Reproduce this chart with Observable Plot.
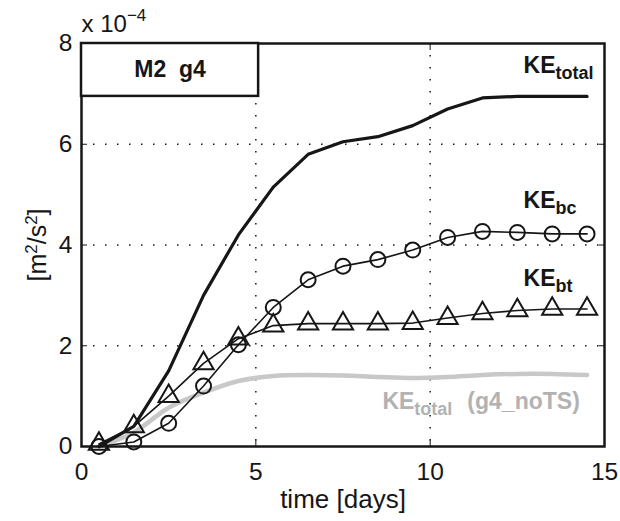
<!DOCTYPE html>
<html><head><meta charset="utf-8">
<script src="https://cdn.jsdelivr.net/npm/d3@7"></script>
<script src="https://cdn.jsdelivr.net/npm/@observablehq/plot@0.6"></script>
<style>
body{margin:0;background:#fff}
#chart svg{display:block}
#chart svg text{white-space:pre}
</style>
</head><body><div id="chart"></div>
<script>
// time [days]
const days = [0.5, 1.5, 2.5, 3.5, 4.5, 5.5, 6.5, 7.5, 8.5, 9.5, 10.5, 11.5, 12.5, 13.5, 14.5];
// values in units of 1e-4 m^2/s^2
const keTotal     = [0, 0.40, 1.50, 3.00, 4.20, 5.15, 5.80, 6.05, 6.15, 6.37, 6.70, 6.92, 6.95, 6.95, 6.95];
const keBc        = [0, 0.09, 0.46, 1.20, 2.02, 2.76, 3.31, 3.58, 3.71, 3.90, 4.15, 4.27, 4.25, 4.22, 4.22];
const keBt        = [0.05, 0.40, 1.00, 1.65, 2.14, 2.40, 2.44, 2.44, 2.44, 2.45, 2.55, 2.64, 2.70, 2.73, 2.73];
const keTotalNoTS = [0, 0.28, 0.77, 1.07, 1.30, 1.40, 1.42, 1.41, 1.38, 1.36, 1.38, 1.42, 1.44, 1.44, 1.42];

const xTicks = [0, 5, 10, 15];
const yTicks = [0, 2, 4, 6, 8];
const xGrid = [5, 10];
const yGrid = [2, 4, 6];

// series labels: main text, subscript, trailing text, anchor position (data units)
const labelMain = ["KE", "KE", "KE", "KE"];
const labelSub  = ["total", "bc", "bt", "total"];
const labelRest = ["", "", "", "(g4_noTS)"];
const labelX    = [12.68, 12.68, 12.68, 8.63];
const labelY    = [7.56, 4.88, 3.33, 0.89];
const labelGray = [false, false, false, true];

// panel annotation box
const panelText = "M2  g4";
const panelBox = [{x1: 0, x2: 5.08, y1: 6.95, y2: 8, text: panelText}];

const BLACK = "#161616";
const GRAY_LINE = "#c8c8c8";
const GRAY_TEXT = "#b2b2b2";

const toRows = (vals) => days.map((d, i) => ({x: d, y: vals[i]}));
const total = toRows(keTotal);
const bc = toRows(keBc);
const bt = toRows(keBt);
const noTS = toRows(keTotalNoTS);

const labels = labelMain.map((m, i) => ({
  main: m, sub: labelSub[i], rest: labelRest[i], x: labelX[i], y: labelY[i], gray: labelGray[i]
}));

const gridStyle = {stroke: BLACK, strokeOpacity: 1, strokeWidth: 1.5, strokeDasharray: "1.5,10.5"};

const chart = Plot.plot({
  width: 620,
  height: 521,
  marginLeft: 81,
  marginRight: 16,
  marginTop: 43,
  marginBottom: 75,
  x: {domain: [0, 15]},
  y: {domain: [0, 8]},
  style: {fontFamily: "'Liberation Sans', Arial, Helvetica, sans-serif", fontSize: "24px", color: BLACK, background: "white", overflow: "visible"},
  marks: [
    Plot.gridX(xGrid, gridStyle),
    Plot.gridY(yGrid, gridStyle),
    Plot.line(noTS, {x: "x", y: "y", stroke: GRAY_LINE, strokeWidth: 4.5, curve: "catmull-rom"}),
    Plot.line(total, {x: "x", y: "y", stroke: BLACK, strokeWidth: 3.2}),
    Plot.line(bc, {x: "x", y: "y", stroke: BLACK, strokeWidth: 1.6}),
    Plot.dot(bc, {x: "x", y: "y", symbol: "circle", r: 7.5, stroke: BLACK, strokeWidth: 2, fill: "none"}),
    Plot.line(bt, {x: "x", y: "y", stroke: BLACK, strokeWidth: 1.6}),
    Plot.dot(bt, {x: "x", y: "y", symbol: "triangle", r: 7.5, stroke: BLACK, strokeWidth: 2, fill: "none"}),
    Plot.frame({stroke: BLACK, strokeWidth: 2.5}),
    Plot.axisX({ticks: xTicks, tickSize: -6, tickPadding: 22, label: null, fontSize: 24.5, stroke: BLACK}),
    Plot.axisX({anchor: "top", ticks: xGrid, tickSize: -6, tickFormat: () => "", label: null}),
    Plot.axisY({ticks: yTicks, tickSize: -6, tickPadding: 15, label: null, fontSize: 24.5}),
    Plot.axisY({anchor: "right", ticks: yGrid, tickSize: -6, tickFormat: () => "", label: null}),
    Plot.rect(panelBox, {x1: "x1", x2: "x2", y1: "y1", y2: "y2", fill: "white", stroke: BLACK, strokeWidth: 2.5}),
    Plot.text(panelBox, {x: d => (d.x1 + d.x2) / 2, y: d => (d.y1 + d.y2) / 2, text: "text", fontWeight: "bold", fontSize: 23, fill: BLACK}),
    Plot.text(labels, {x: "x", y: "y", text: d => d.main + d.sub + (d.rest ? "  " + d.rest : ""), textAnchor: "start", fontWeight: "bold", fontSize: 23,
      fill: d => d.gray ? GRAY_TEXT : BLACK, className: "ke-label"}),
    Plot.text(["x 10"], {frameAnchor: "top-left", textAnchor: "start", lineAnchor: "middle", dy: -19, fontSize: 24, fill: BLACK, className: "scale-label"}),
    Plot.text(["time [days]"], {frameAnchor: "bottom", textAnchor: "middle", lineAnchor: "middle", dy: 53, fontSize: 26, fill: BLACK}),
    Plot.text(["[m2/s2]"], {frameAnchor: "left", textAnchor: "middle", lineAnchor: "middle", dx: -44, rotate: -90, fontSize: 25, fill: BLACK, className: "y-label"})
  ]
});

const svg = d3.select(chart);

// subscripts for series labels
svg.selectAll("g.ke-label text").each(function(_, i) {
  const d = labels[i];
  const t = d3.select(this);
  t.text(null);
  t.append("tspan").text(d.main);
  t.append("tspan").attr("dy", 6).attr("font-size", 18).text(d.sub);
  if (d.rest) t.append("tspan").attr("dy", -6).attr("dx", 15).text(d.rest);
});

// superscript exponent
svg.selectAll("g.scale-label text").each(function() {
  const t = d3.select(this);
  t.text(null);
  t.append("tspan").text("x 10");
  t.append("tspan").attr("dy", -11).attr("font-size", 17).text("\u22124");
});

// y label with superscripts
svg.selectAll("g.y-label text").each(function() {
  const t = d3.select(this);
  t.text(null);
  t.append("tspan").text("[m");
  t.append("tspan").attr("dy", -9).attr("font-size", 17).text("2");
  t.append("tspan").attr("dy", 9).text("/s");
  t.append("tspan").attr("dy", -9).attr("font-size", 17).text("2");
  t.append("tspan").attr("dy", 9).text("]");
});

document.getElementById("chart").appendChild(chart);
</script>
</body></html>
